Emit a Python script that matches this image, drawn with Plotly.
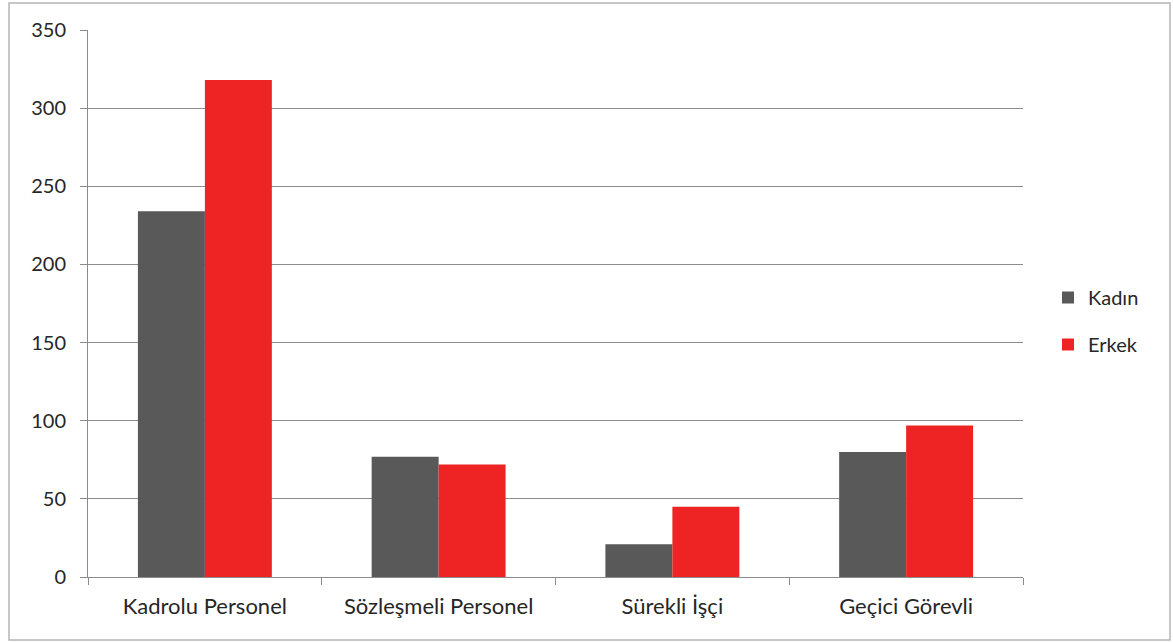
import plotly.graph_objects as go

categories = ["Kadrolu Personel", "Sözleşmeli Personel", "Sürekli İşçi", "Geçici Görevli"]
kadin = [234, 77, 21, 80]
erkek = [318, 72, 45, 97]
y_ticks = [0, 50, 100, 150, 200, 250, 300, 350]

W, H = 1173, 642
L, R, T, B = 88, 150, 30, 65
pw, ph = W - L - R, H - T - B

fig = go.Figure()
fig.add_trace(go.Bar(name="Kadın", x=categories, y=kadin, marker_color="#595959",
                     marker_line_width=0, legendgroup="k"))
fig.add_trace(go.Bar(name="Erkek", x=categories, y=erkek, marker_color="#EE2424",
                     marker_line_width=0, legendgroup="e"))

fam = "Lato, Open Sans, sans-serif"
xfont = dict(family=fam, size=22, color="#262626")
yfont = dict(family=fam, size=20, color="#262626")

fig.update_layout(
    width=W, height=H,
    margin=dict(l=L, r=R, t=T, b=B, autoexpand=False),
    paper_bgcolor="white", plot_bgcolor="white",
    barmode="group", bargap=0.427, bargroupgap=0,
    font=yfont,
    showlegend=True,
    legend=dict(x=(1048 - L) / pw, y=(T + ph - 321) / ph, xanchor="left", yanchor="middle",
                tracegroupgap=18, font=dict(family=fam, size=20, color="#262626"),
                itemwidth=30, bgcolor="rgba(0,0,0,0)"),
    xaxis=dict(showline=True, linecolor="#8c8c8c", linewidth=1,
               ticks="outside", tickson="boundaries", ticklen=7, tickcolor="#8c8c8c",
               showgrid=False, tickfont=xfont, ticklabelstandoff=10),
    yaxis=dict(range=[0, 350], tickvals=y_ticks, showline=True, linecolor="#8c8c8c",
               linewidth=1, ticks="outside", ticklen=7, tickcolor="#8c8c8c",
               showgrid=True, gridcolor="#8c8c8c", gridwidth=1, zeroline=False,
               tickfont=yfont, ticklabelstandoff=10),
)

# outer chart frame
fig.add_shape(type="rect", xref="paper", yref="paper",
              x0=(9 - L) / pw, x1=(1170 - L) / pw,
              y0=(T + ph - 640) / ph, y1=(T + ph - 3) / ph,
              line=dict(color="#b5b5b5", width=1.5), fillcolor="rgba(0,0,0,0)", layer="below")

fig.write_html("out.html", post_script="document.body.style.margin='0';",
               config={"displayModeBar": False})
